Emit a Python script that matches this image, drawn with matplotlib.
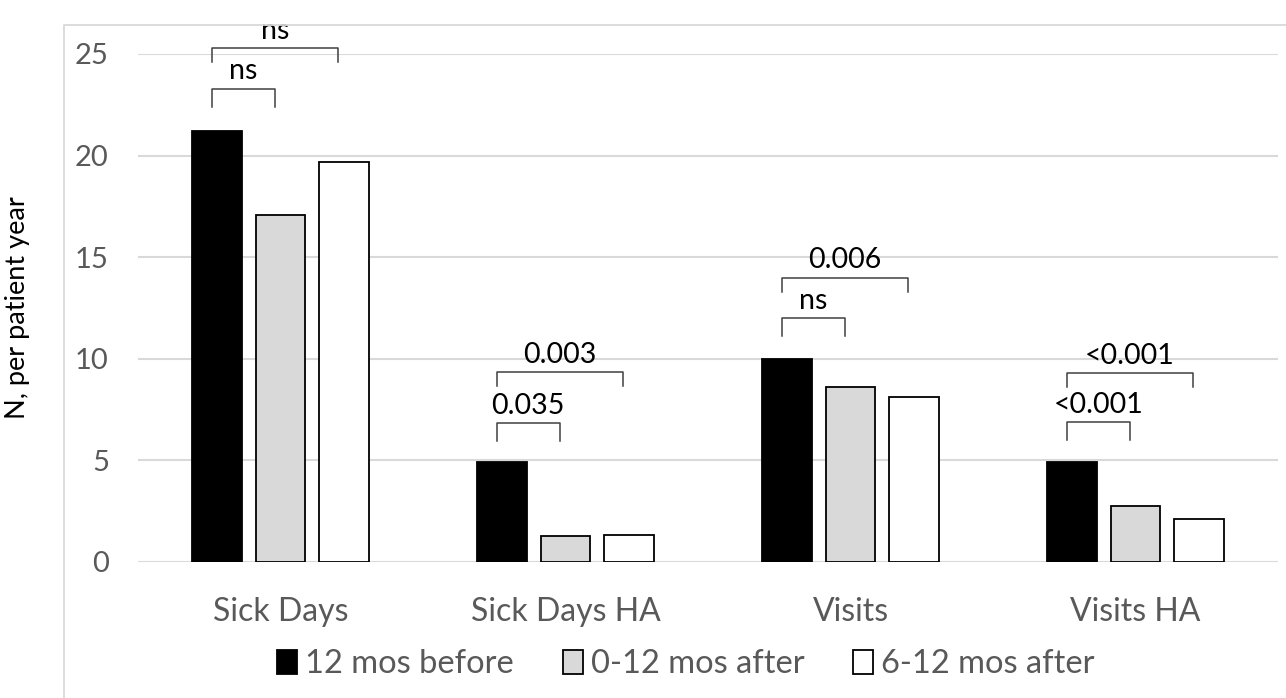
import matplotlib.pyplot as plt
from matplotlib.patches import Patch
from matplotlib.lines import Line2D
import numpy as np

categorias = ['Sick Days', 'Sick Days HA', 'Visits', 'Visits HA']
series = ['12 mos before', '0-12 mos after', '6-12 mos after']
antes_12 = [21.2, 4.9, 10.0, 4.9]
despues_0_12 = [17.1, 1.28, 8.6, 2.75]
despues_6_12 = [19.7, 1.33, 8.1, 2.1]
colores = ['#000000', '#d9d9d9', '#ffffff']

# (categoria, serie destino, altura barra horizontal, texto)
corchetes = [
    (0, 1, 23.3, 'ns'), (0, 2, 25.3, 'ns'),
    (1, 1, 6.85, '0.035'), (1, 2, 9.35, '0.003'),
    (2, 1, 12.0, 'ns'), (2, 2, 14.0, '0.006'),
    (3, 1, 6.9, '<0.001'), (3, 2, 9.3, '<0.001'),
]

plt.rcParams['font.family'] = ['Lato', 'DejaVu Sans']

fig = plt.figure(figsize=(12.86, 6.98), dpi=100)
ax = fig.add_axes([138/1286, 1-562/698, (1278-138)/1286, (562-54)/698])

# Marco exterior del grafico
xm, ym = 64/1286, 1-25/698
fig.add_artist(Line2D([xm, xm, 1.0], [0.0, ym, ym], transform=fig.transFigure,
                      color='#d9d9d9', linewidth=1.3))

x = np.arange(len(categorias))
ancho = 0.175
desp = 0.222
for k, (vals, c) in enumerate(zip([antes_12, despues_0_12, despues_6_12], colores)):
    ax.bar(x + (k-1)*desp, vals, ancho, color=c, edgecolor='black',
           linewidth=1.3, zorder=3, label=series[k])

ax.set_xlim(-0.5, 3.5)
ax.set_ylim(0, 25)
ax.set_yticks(np.arange(0, 26, 5))
ax.yaxis.grid(True, color='#d9d9d9', linewidth=1.5, zorder=0)
ax.set_axisbelow(True)
for s in ax.spines.values():
    s.set_visible(False)
ax.tick_params(axis='both', length=0, labelcolor='#595959')
ax.tick_params(axis='y', pad=21, labelsize=21)
ax.tick_params(axis='x', pad=25, labelsize=23)
ax.set_xticks(x)
ax.set_xticklabels(categorias)
ax.set_ylabel('N, per patient year', fontsize=19.5)
ax.yaxis.set_label_coords((30-138)/1140, 0.5)

# Corchetes de significancia
for cat, dest, h, txt in corchetes:
    x0 = cat - desp - 0.02
    x1 = cat + (dest-1)*desp - 0.02
    pata = 0.9 if dest == 1 else 0.7
    ax.plot([x0, x0, x1, x1], [h-pata, h, h, h-pata], color='#404040',
            linewidth=1.1, clip_on=False, zorder=4)
    ax.text((x0+x1)/2, h+0.2, txt, ha='center', va='bottom', fontsize=20.5,
            color='black', clip_on=False)

manejadores = [Patch(facecolor=c, edgecolor='black', linewidth=1.3) for c in colores]
fig.legend(manejadores, series, loc='center', bbox_to_anchor=(686/1286, 1-664/698),
           ncol=3, frameon=False, fontsize=23.5, labelcolor='#595959',
           handlelength=0.6, handleheight=0.75, handletextpad=0.25, columnspacing=1.5)

fig.savefig('out.png', dpi=100)
